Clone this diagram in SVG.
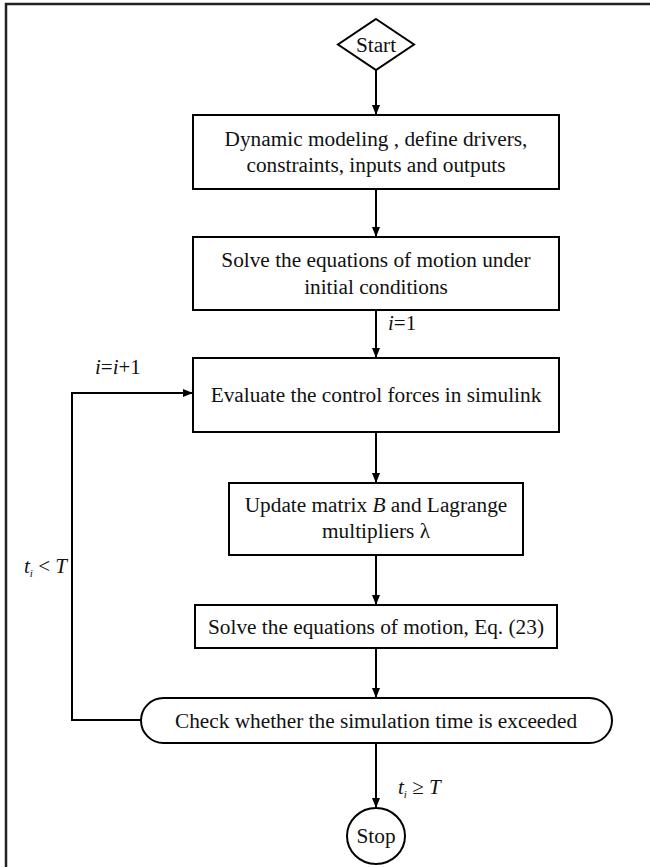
<svg xmlns="http://www.w3.org/2000/svg" width="650" height="867" viewBox="0 0 650 867">
<defs>
<marker id="ah" viewBox="0 0 10 8" refX="10" refY="4" markerWidth="10" markerHeight="8" markerUnits="userSpaceOnUse" orient="auto">
<path d="M0,0 L10,4 L0,8 Z" fill="#000"/>
</marker>
<style>
.n{fill:#fff;stroke:#000;stroke-width:2}
.t{font-family:"Liberation Serif","Times New Roman",serif;font-size:21.3px;fill:#111;text-anchor:middle}
.m{font-family:"Liberation Serif","Times New Roman",serif;font-size:21px;fill:#111}
.c{fill:none;stroke:#000;stroke-width:2}
.a{marker-end:url(#ah)}
</style>
</defs>
<rect width="650" height="867" fill="#fff"/>
<g id="frame"><path d="M6,867 L6,4 L650,4" fill="none" stroke="#222" stroke-width="2.5"/></g>
<g id="connectors">
<line class="c a" x1="376" y1="70" x2="376" y2="115"/>
<line class="c a" x1="376" y1="189" x2="376" y2="237"/>
<line class="c a" x1="376" y1="310" x2="376" y2="358"/>
<line class="c a" x1="376" y1="432" x2="376" y2="483"/>
<line class="c a" x1="376" y1="555" x2="376" y2="605"/>
<line class="c a" x1="376" y1="648" x2="376" y2="698"/>
<line class="c a" x1="376" y1="743" x2="376" y2="808"/>
<polyline class="c a" points="141,720 72,720 72,393 193,393"/>
<text class="m" x="388" y="330"><tspan font-style="italic">i</tspan>=1</text>
<text class="m" x="95" y="374"><tspan font-style="italic">i</tspan>=<tspan font-style="italic">i</tspan>+1</text>
<text class="m" x="24" y="573"><tspan font-style="italic">t</tspan><tspan font-size="11" dy="4" font-style="italic">i</tspan><tspan dy="-4"> &lt; </tspan><tspan font-style="italic">T</tspan></text>
<text class="m" x="398" y="794"><tspan font-style="italic">t</tspan><tspan font-size="11" dy="4" font-style="italic">i</tspan><tspan dy="-4"> ≥ </tspan><tspan font-style="italic">T</tspan></text>
</g>
<g id="start"><polygon class="n" points="376,19 414,44.5 376,70 338,44.5"/><text class="t" x="376" y="52">Start</text></g>
<g id="model"><rect class="n" x="193" y="115" width="366" height="74"/><text class="t" x="376" y="146">Dynamic modeling , define drivers,</text><text class="t" x="376" y="172">constraints, inputs and outputs</text></g>
<g id="initial"><rect class="n" x="193" y="237" width="366" height="73"/><text class="t" x="376" y="267">Solve the equations of motion under</text><text class="t" x="376" y="294">initial conditions</text></g>
<g id="evaluate"><rect class="n" x="193" y="358" width="366" height="74"/><text class="t" x="376" y="402">Evaluate the control forces in simulink</text></g>
<g id="update"><rect class="n" x="229" y="483" width="294" height="72"/><text class="t" x="376" y="512">Update matrix <tspan font-style="italic">B</tspan> and Lagrange</text><text class="t" x="376" y="538">multipliers λ</text></g>
<g id="solve"><rect class="n" x="195" y="605" width="362" height="43"/><text class="t" x="376" y="634">Solve the equations of motion, Eq. (23)</text></g>
<g id="check"><rect class="n" x="141" y="698" width="471" height="45" rx="22.5" ry="22.5"/><text class="t" x="376" y="728">Check whether the simulation time is exceeded</text></g>
<g id="stop"><ellipse class="n" cx="376" cy="836" rx="29" ry="28"/><text class="t" x="376" y="843">Stop</text></g>
</svg>
